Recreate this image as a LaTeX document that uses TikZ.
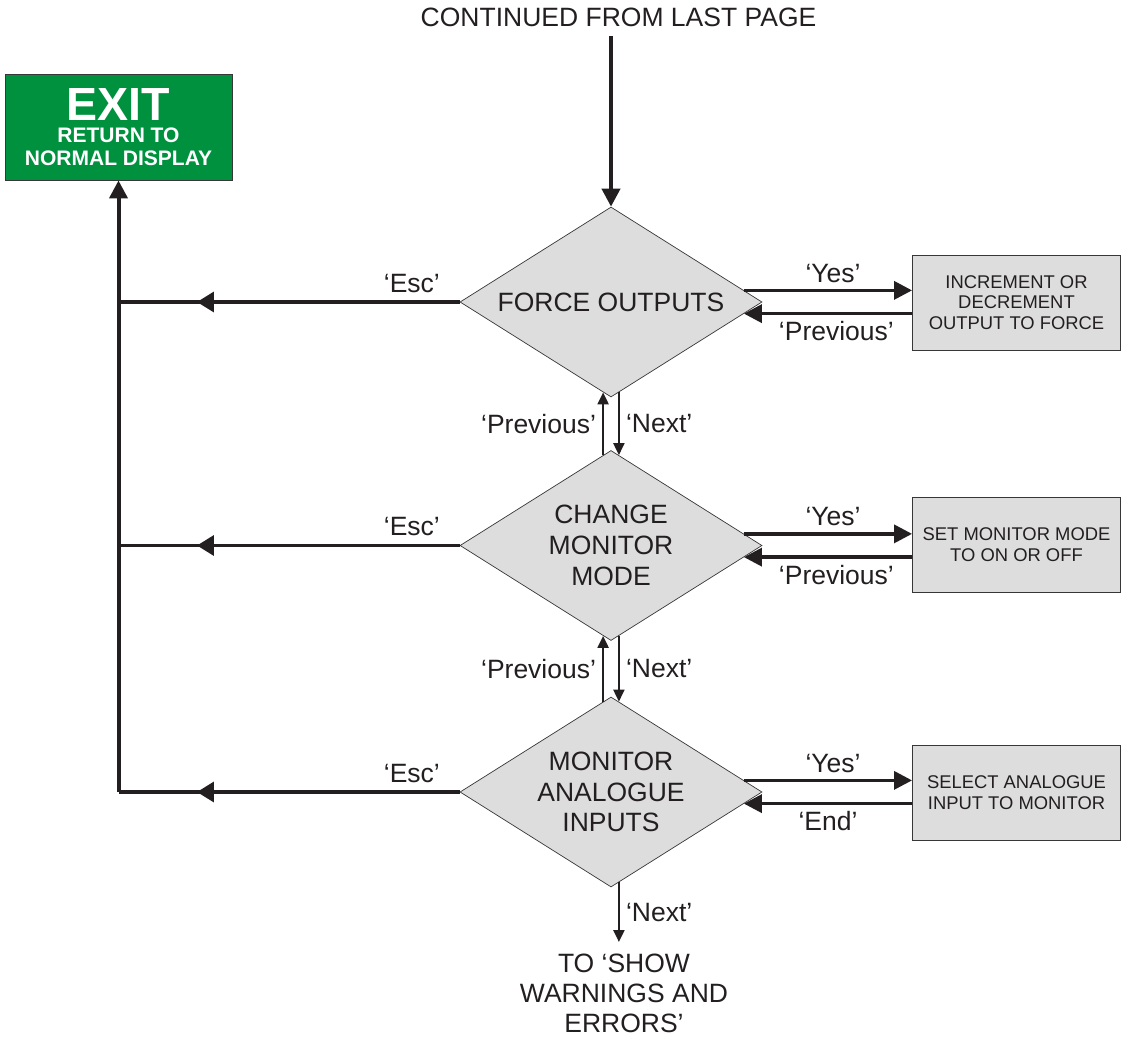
\documentclass[tikz,border=0pt]{standalone}
\usepackage{fontspec}
\setmainfont{Liberation Sans}
\usetikzlibrary{shapes.geometric,arrows.meta,decorations.markings}

\definecolor{exitgreen}{RGB}{0,145,63}
\definecolor{boxgrey}{RGB}{221,221,221}
\definecolor{edgegrey}{RGB}{55,55,55}
\definecolor{ink}{RGB}{35,31,32}

\begin{document}
\begin{tikzpicture}[x=1pt, y=-1pt, color=ink,
    font=\fontsize{26.5}{30}\selectfont,
    decision/.style={diamond, draw=edgegrey, line width=0.7pt, fill=boxgrey, aspect=1.59, inner sep=0pt, minimum width=302pt, minimum height=190pt, align=center, font=\fontsize{26.5}{30.7}\selectfont},
    process/.style={rectangle, draw=edgegrey, line width=0.9pt, fill=boxgrey, minimum width=208pt, minimum height=95pt, inner sep=2pt, align=center, font=\fontsize{18.4}{20.5}\selectfont},
    lbl/.style={inner sep=6pt},
    flow/.style={line width=3.4pt, -{Triangle[length=18pt, width=18pt]}},
    flowthin/.style={line width=2.2pt, -{Triangle[length=12pt, width=11pt]}},
    escflow/.style={line width=3.4pt, postaction={decorate}, decoration={markings, mark=at position 0.77 with {\arrow{Triangle[length=17pt, width=20pt]}}}}]
    \useasboundingbox (0,0) rectangle (1123,1038);

    \node at (618.5,17.5) [inner sep=9pt] (continued) {CONTINUED FROM LAST PAGE};
    \node at (118.5,127) [draw=edgegrey, line width=0.9pt, fill=exitgreen, text=white, minimum width=227pt, minimum height=106pt, inner sep=0pt, align=center, font=\bfseries\fontsize{21}{22.6}\selectfont] (exit) {{\fontsize{46.5}{22.6}\selectfont EXIT}\\RETURN TO\\NORMAL DISPLAY};

    \node at (611,302) [decision] (force) {FORCE OUTPUTS};
    \node at (611,545.5) [decision] (change) {CHANGE\\MONITOR\\MODE};
    \node at (611,792) [decision] (monitor) {MONITOR\\ANALOGUE\\INPUTS};

    \node at (1016.5,302.5) [process] (increment) {INCREMENT OR\\DECREMENT\\OUTPUT TO FORCE};
    \node at (1016.5,544.5) [process] (setmode) {SET MONITOR MODE\\TO ON OR OFF};
    \node at (1016.5,792.5) [process] (select) {SELECT ANALOGUE\\INPUT TO MONITOR};

    \node at (624,942) [anchor=north, inner xsep=0pt, inner ysep=12pt, align=center] (warnings) {TO ‘SHOW\\WARNINGS AND\\ERRORS’};

    % arrow in from the last page
    \draw [flow, line width=4pt] (continued.south -| force.north) -- (force.north);

    % yes and back for each question
    \draw [flow] (force.5) -- (force.5 -| increment.west) node[pos=0.53, above, lbl] {‘Yes’};
    \draw [flow] (force.-5 -| increment.west) -- (force.-5) node[pos=0.45, below, lbl] {‘Previous’};
    \draw [flow] (change.5) -- (change.5 -| setmode.west) node[pos=0.53, above, lbl] {‘Yes’};
    \draw [flow] (change.-5 -| setmode.west) -- (change.-5) node[pos=0.45, below, lbl] {‘Previous’};
    \draw [flow] (monitor.5) -- (monitor.5 -| select.west) node[pos=0.53, above, lbl] {‘Yes’};
    \draw [flow] (monitor.-5 -| select.west) -- (monitor.-5) node[pos=0.5, below, lbl] {‘End’};

    % previous and next between questions
    \draw [flowthin] (change.95) -- (force.-95) node[midway, left, lbl] {‘Previous’};
    \draw [flowthin] (force.-85) -- (change.85) node[midway, right, lbl] {‘Next’};
    \draw [flowthin] (monitor.95) -- (change.-95) node[midway, left, lbl] {‘Previous’};
    \draw [flowthin] (change.-85) -- (monitor.85) node[midway, right, lbl] {‘Next’};
    \draw [flowthin] (monitor.-85) -- (monitor.-85 |- warnings.north) node[midway, right, lbl] {‘Next’};

    % esc goes back to the exit box
    \draw [escflow] (force.west) -- (force.west -| exit.south) node[pos=0.14, above, lbl, inner sep=8pt] {‘Esc’};
    \draw [escflow] (change.west) -- (change.west -| exit.south) node[pos=0.14, above, lbl, inner sep=8pt] {‘Esc’};
    \draw [escflow] (monitor.west) -- (monitor.west -| exit.south) node[pos=0.14, above, lbl, inner sep=8pt] {‘Esc’};
    \draw [flow, line width=4pt] (monitor.west -| exit.south) -- (exit.south);
\end{tikzpicture}
\end{document}
